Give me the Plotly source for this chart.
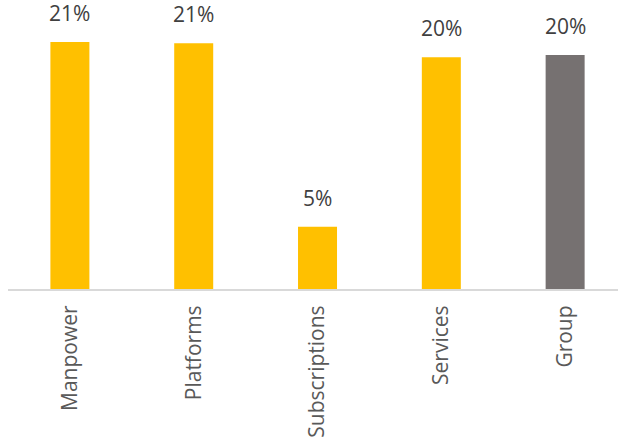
import plotly.graph_objects as go

# Segment growth figures
categories = ["Manpower", "Platforms", "Subscriptions", "Services", "Group"]
values = [21.0, 20.9, 5.3, 19.7, 19.9]
colors = ["#FFC000", "#FFC000", "#FFC000", "#FFC000", "#767171"]

fig = go.Figure(
    go.Bar(
        x=categories,
        y=values,
        marker=dict(color=colors, line=dict(width=0)),
        hoverinfo="skip",
    )
)

# Percentage labels above each bar, rounded from the bar value
for cat, val in zip(categories, values):
    fig.add_annotation(
        x=cat, y=val, text=f"{val:.0f}%",
        showarrow=False, yanchor="bottom", yshift=13,
        font=dict(family="Open Sans", size=21, color="#404040"),
    )

fig.update_layout(
    width=618, height=438,
    margin=dict(l=8, r=0, t=0, b=149),
    paper_bgcolor="white", plot_bgcolor="white",
    bargap=0.685,
    showlegend=False,
    xaxis=dict(
        range=[-0.5, 4.427],
        showline=True, linecolor="#D9D9D9", linewidth=2,
        tickangle=-90,
        ticks="outside", ticklen=6, tickcolor="rgba(0,0,0,0)",
        tickfont=dict(family="Open Sans", size=21, color="#595959"),
        showgrid=False, zeroline=False,
    ),
    yaxis=dict(
        range=[0, 24.57], visible=False, showgrid=False, zeroline=False,
    ),
)

fig.write_html("out.html")
